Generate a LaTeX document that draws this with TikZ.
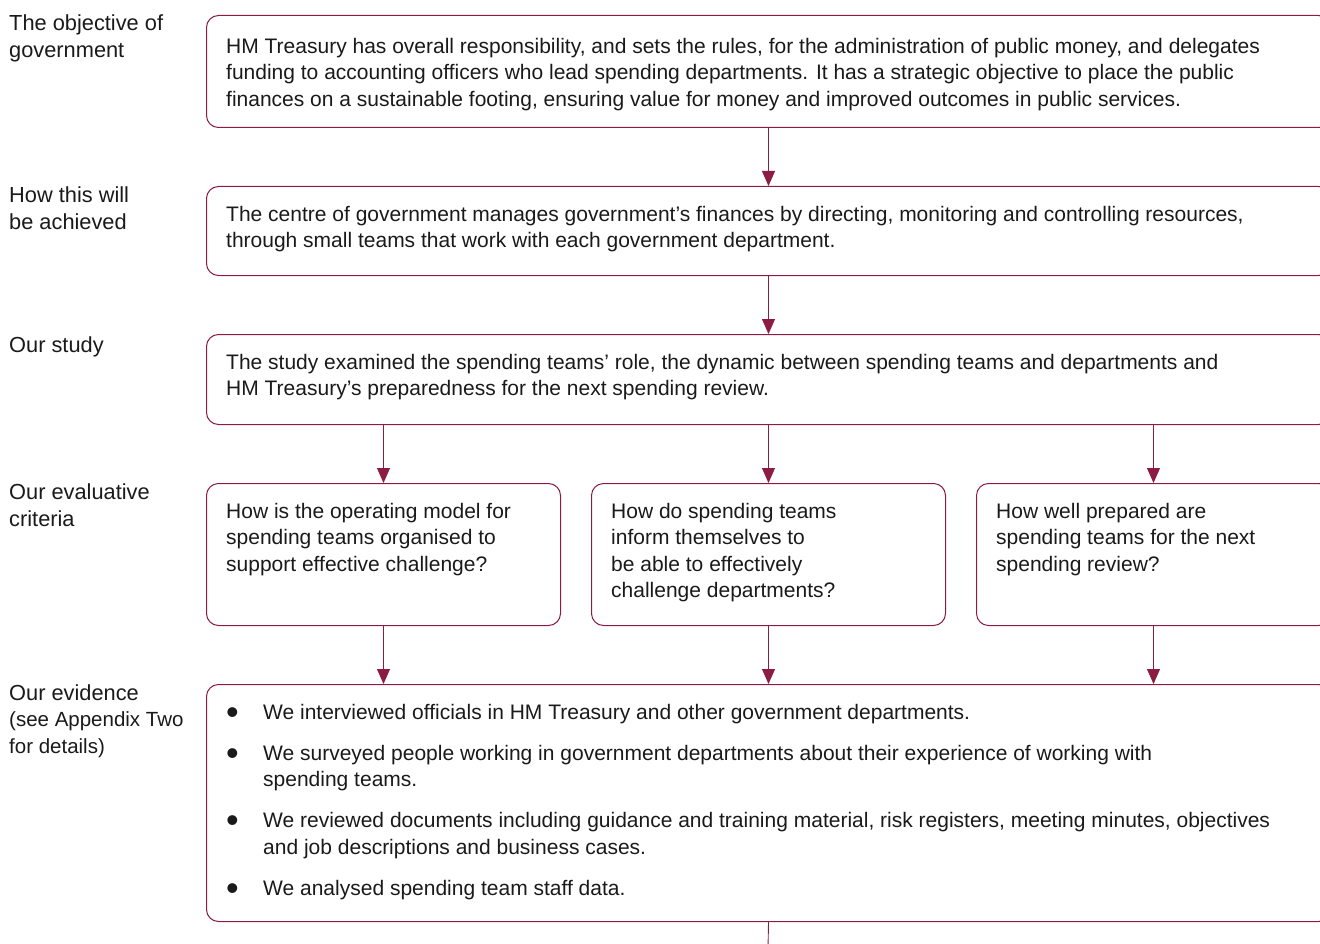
\documentclass[tikz,border=0pt]{standalone}
\usepackage{fontspec}
\setmainfont{Liberation Sans}
\usetikzlibrary{positioning,arrows.meta}
\definecolor{naored}{HTML}{8C1D40}
\definecolor{naotext}{HTML}{1A1A1A}
\newcommand{\evitem}{\makebox[37pt][l]{\smash{\raisebox{-5pt}{\fontsize{36}{26.5}\selectfont\textbullet}}}}

\begin{document}
\begin{tikzpicture}[x=1pt, y=-1pt,
  frame/.style={draw=naored, line width=1pt, rounded corners=12pt, anchor=north west, inner sep=0pt},
  body/.style={inner sep=0pt, align=left, text=naotext, font=\fontsize{21}{26.5}\selectfont},
  lab/.style={anchor=north west, inner sep=0pt, align=left, text=naotext, font=\fontsize{21.8}{26.5}\selectfont},
  flow/.style={draw=naored, line width=0.9pt, -{Triangle[width=13pt,length=15pt]}}]
\useasboundingbox (0,0) rectangle (1320,944);
\clip (0,0) rectangle (1320,944);

% frames
\node[frame, minimum width=1124pt, minimum height=112pt] (obj) at (206,15) {};
\node[frame, minimum width=1124pt, minimum height=89pt] (how) at (206,186) {};
\node[frame, minimum width=1124pt, minimum height=90pt] (study) at (206,334) {};
\node[frame, minimum width=354pt, minimum height=142pt] (critA) at (206,483) {};
\node[frame, minimum width=354pt, minimum height=142pt] (critB) at (591,483) {};
\node[frame, minimum width=354pt, minimum height=142pt] (critC) at (976,483) {};
\node[frame, minimum width=1124pt, minimum height=237pt] (evid) at (206,684) {};

% texts in the frames
\node[body, below right=23pt and 20pt of obj.north west] (objtxt) {HM Treasury has overall responsibility, and sets the rules, for the administration of public money, and delegates\\funding to accounting officers who lead spending departments. It has a strategic objective to place the public\\finances on a sustainable footing, ensuring value for money and improved outcomes in public services.};
\node[body, below right=20pt and 20pt of how.north west] (howtxt) {The centre of government manages government’s finances by directing, monitoring and controlling resources,\\through small teams that work with each government department.};
\node[body, below right=20pt and 20pt of study.north west] (studytxt) {The study examined the spending teams’ role, the dynamic between spending teams and departments and\\HM Treasury’s preparedness for the next spending review.};
\node[body, below right=20pt and 20pt of critA.north west] (critAtxt) {How is the operating model for\\spending teams organised to\\support effective challenge?};
\node[body, below right=20pt and 20pt of critB.north west] (critBtxt) {How do spending teams\\inform themselves to\\be able to effectively\\challenge departments?};
\node[body, below right=20pt and 20pt of critC.north west] (critCtxt) {How well prepared are\\spending teams for the next\\spending review?};
\node[body, below right=20pt and 20pt of evid.north west] (evidtxt) {\evitem We interviewed officials in HM Treasury and other government departments.\\[14.5pt]
  \evitem We surveyed people working in government departments about their experience of working with\\\hspace*{37pt}spending teams.\\[14.5pt]
  \evitem We reviewed documents including guidance and training material, risk registers, meeting minutes, objectives\\\hspace*{37pt}and job descriptions and business cases.\\[14.5pt]
  \evitem We analysed spending team staff data.};

% labels on the left
\node[lab] (objlab) at (9,15) {The objective of\\government};
\node[lab] (howlab) at (9,187) {How this will\\be achieved};
\node[lab] (studylab) at (9,337) {Our study};
\node[lab] (critlab) at (9,484) {Our evaluative\\criteria};
\node[lab] (evidlab) at (9,684) {Our evidence\\{\fontsize{20.5}{26.5}\selectfont(see Appendix Two}\\{\fontsize{20.5}{26.5}\selectfont for details)}};

% connectors
\draw[flow] (obj.south) -- (how.north);
\draw[flow] (how.south) -- (study.north);
\foreach \c in {critA,critB,critC}{
  \draw[flow] (study.south -| \c.north) -- (\c.north);
  \draw[flow] (\c.south) -- (evid.north -| \c.south);
}
\coordinate (tail) at (768,950);
\draw[draw=naored, line width=0.9pt] (evid.south) -- (tail);
\end{tikzpicture}
\end{document}
